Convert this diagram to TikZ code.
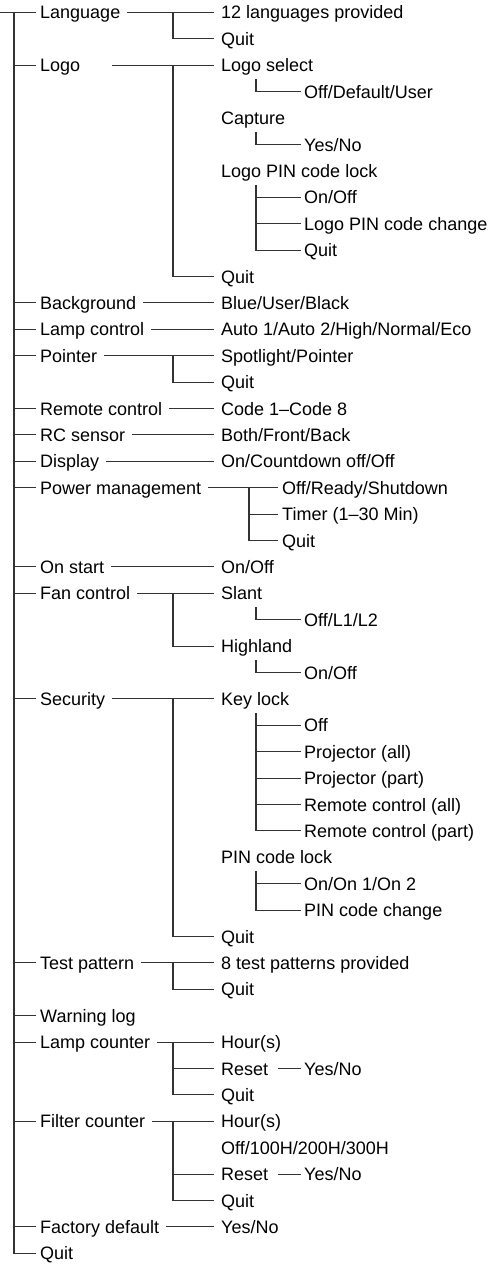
\documentclass[tikz,border=0pt]{standalone}
\usepackage{fontspec}
\setmainfont{Liberation Sans}
\usetikzlibrary{calc}
\begin{document}
\begin{tikzpicture}[x=1pt,y=-26.4pt,
  every node/.style={font=\fontsize{18pt}{20pt}\selectfont, text height=13pt, text depth=0pt, inner ysep=0pt, anchor=west, text=black},
  lone/.style={inner xsep=4pt},
  ltwo/.style={inner xsep=7pt},
  lthree/.style={inner xsep=3pt},
  lpw/.style={inner xsep=4pt},
  wire/.style={line width=1.1pt, draw=black!80}]
\useasboundingbox (0,-0.47348) rectangle (493,47.4811);
\coordinate (root) at (0,0);
\coordinate (c1) at (14,0);
\coordinate (c2) at (173,0);
\coordinate (c3) at (256,0);
\coordinate (cp) at (249,0);
% level 1
\node[lone] (lang) at (36,0) {Language};
\node[lone] (logo) at (36,2) {Logo};
\node[lone] (bg) at (36,11) {Background};
\node[lone] (lamp) at (36,12) {Lamp control};
\node[lone] (ptr) at (36,13) {Pointer};
\node[lone] (rem) at (36,15) {Remote control};
\node[lone] (rc) at (36,16) {RC sensor};
\node[lone] (disp) at (36,17) {Display};
\node[lone] (pm) at (36,18) {Power management};
\node[lone] (ons) at (36,21) {On start};
\node[lone] (fan) at (36,22) {Fan control};
\node[lone] (sec) at (36,26) {Security};
\node[lone] (test) at (36,36) {Test pattern};
\node[lone] (warn) at (36,38) {Warning log};
\node[lone] (lcnt) at (36,39) {Lamp counter};
\node[lone] (fcnt) at (36,42) {Filter counter};
\node[lone] (fact) at (36,46) {Factory default};
\node[lone] (quit) at (36,47) {Quit};
% level 2
\node[ltwo] (langA) at (214,0) {12 languages provided};
\node[ltwo] (langQ) at (214,1) {Quit};
\node[ltwo] (logoA) at (214,2) {Logo select};
\node[ltwo] (logoB) at (214,4) {Capture};
\node[ltwo] (logoC) at (214,6) {Logo PIN code lock};
\node[ltwo] (logoQ) at (214,10) {Quit};
\node[ltwo] (bgA) at (214,11) {Blue/User/Black};
\node[ltwo] (lampA) at (214,12) {Auto 1/Auto 2/High/Normal/Eco};
\node[ltwo] (ptrA) at (214,13) {Spotlight/Pointer};
\node[ltwo] (ptrQ) at (214,14) {Quit};
\node[ltwo] (remA) at (214,15) {Code 1–Code 8};
\node[ltwo] (rcA) at (214,16) {Both/Front/Back};
\node[ltwo] (dispA) at (214,17) {On/Countdown off/Off};
\node[lpw] (pmA) at (278,18) {Off/Ready/Shutdown};
\node[lpw] (pmB) at (278,19) {Timer (1–30 Min)};
\node[lpw] (pmQ) at (278,20) {Quit};
\node[ltwo] (onsA) at (214,21) {On/Off};
\node[ltwo] (fanA) at (214,22) {Slant};
\node[ltwo] (fanB) at (214,24) {Highland};
\node[ltwo] (secA) at (214,26) {Key lock};
\node[ltwo] (secB) at (214,32) {PIN code lock};
\node[ltwo] (secQ) at (214,35) {Quit};
\node[ltwo] (testA) at (214,36) {8 test patterns provided};
\node[ltwo] (testQ) at (214,37) {Quit};
\node[ltwo] (lcA) at (214,39) {Hour(s)};
\node[ltwo] (lcB) at (214,40) {Reset};
\node[ltwo] (lcQ) at (214,41) {Quit};
\node[ltwo] (fcA) at (214,42) {Hour(s)};
\node[ltwo] (fcB) at (214,43) {Off/100H/200H/300H};
\node[ltwo] (fcC) at (214,44) {Reset};
\node[ltwo] (fcQ) at (214,45) {Quit};
\node[ltwo] (factA) at (214,46) {Yes/No};
% level 3
\node[lthree] (logoA1) at (301,3) {Off/Default/User};
\node[lthree] (logoB1) at (301,5) {Yes/No};
\node[lthree] (logoC1) at (301,7) {On/Off};
\node[lthree] (logoC2) at (301,8) {Logo PIN code change};
\node[lthree] (logoC3) at (301,9) {Quit};
\node[lthree] (fanA1) at (301,23) {Off/L1/L2};
\node[lthree] (fanB1) at (301,25) {On/Off};
\node[lthree] (secA1) at (301,27) {Off};
\node[lthree] (secA2) at (301,28) {Projector (all)};
\node[lthree] (secA3) at (301,29) {Projector (part)};
\node[lthree] (secA4) at (301,30) {Remote control (all)};
\node[lthree] (secA5) at (301,31) {Remote control (part)};
\node[lthree] (secB1) at (301,33) {On/On 1/On 2};
\node[lthree] (secB2) at (301,34) {PIN code change};
\node[lthree] (lcB1) at (301,40) {Yes/No};
\node[lthree] (fcC1) at (301,44) {Yes/No};
% trunk
\draw[wire] (root) -- (lang.west);
\draw[wire] (lang.west -| c1) |- (quit.west);
\foreach \n in {logo,bg,lamp,ptr,rem,rc,disp,pm,ons,fan,sec,test,warn,lcnt,fcnt,fact}
  \draw[wire] (\n.west -| c1) -- (\n.west);
% parent to first child
\foreach \p/\c in {lang/langA,bg/bgA,lamp/lampA,ptr/ptrA,rem/remA,rc/rcA,disp/dispA,pm/pmA,ons/onsA,fan/fanA,sec/secA,test/testA,lcnt/lcA,fcnt/fcA,fact/factA}
  \draw[wire] ([xshift=3pt]\p.east) -- (\c.west);
\draw[wire] ([xshift=28pt]logo.east) -- (logoA.west);
% level-2 verticals
\draw[wire] (langA.west -| c2) |- (langQ.west);
\draw[wire] (logoA.west -| c2) |- (logoQ.west);
\draw[wire] (ptrA.west -| c2) |- (ptrQ.west);
\draw[wire] (pmA.west -| cp) |- (pmQ.west);
\draw[wire] (pmB.west -| cp) -- (pmB.west);
\draw[wire] (fanA.west -| c2) |- (fanB.west);
\draw[wire] (secA.west -| c2) |- (secQ.west);
\draw[wire] (testA.west -| c2) |- (testQ.west);
\draw[wire] (lcA.west -| c2) |- (lcQ.west);
\draw[wire] (lcB.west -| c2) -- (lcB.west);
\draw[wire] (fcA.west -| c2) |- (fcQ.west);
\draw[wire] (fcC.west -| c2) -- (fcC.west);
% level-3
\draw[wire] ($(logoA.west -| c3)+(0,-14pt)$) |- (logoA1.west);
\draw[wire] ($(logoB.west -| c3)+(0,-14pt)$) |- (logoB1.west);
\draw[wire] ($(logoC.west -| c3)+(0,-14pt)$) |- (logoC3.west);
\foreach \c in {logoC1,logoC2} \draw[wire] (\c.west -| c3) -- (\c.west);
\draw[wire] ($(fanA.west -| c3)+(0,-14pt)$) |- (fanA1.west);
\draw[wire] ($(fanB.west -| c3)+(0,-14pt)$) |- (fanB1.west);
\draw[wire] ($(secA.west -| c3)+(0,-14pt)$) |- (secA5.west);
\foreach \c in {secA1,secA2,secA3,secA4} \draw[wire] (\c.west -| c3) -- (\c.west);
\draw[wire] ($(secB.west -| c3)+(0,-14pt)$) |- (secB2.west);
\draw[wire] (secB1.west -| c3) -- (secB1.west);
% reset -> yes/no
\draw[wire] ([xshift=3pt]lcB.east) -- (lcB1.west);
\draw[wire] ([xshift=3pt]fcC.east) -- (fcC1.west);
\end{tikzpicture}
\end{document}
